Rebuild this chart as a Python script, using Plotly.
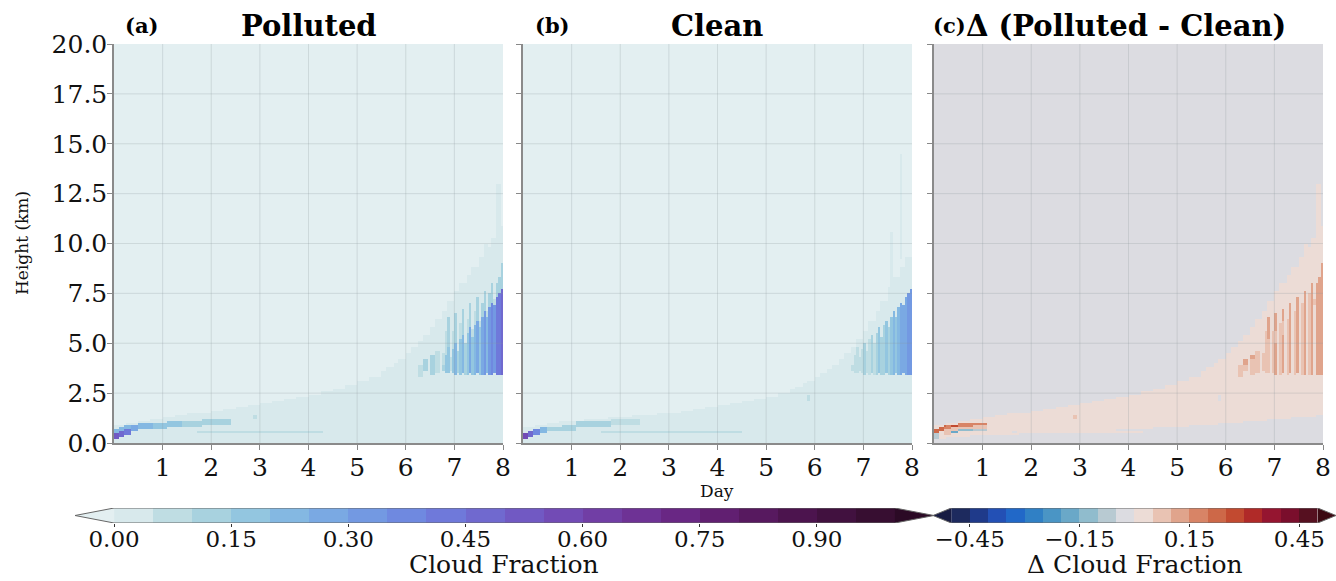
import numpy as np
import plotly.graph_objects as go

# ---------------------------------------------------------------------------
# Cloud-fraction fields (time-height), described as blocks of cloud:
# day start, day end, base (km), top (km), cloud fraction
# ---------------------------------------------------------------------------

# Thin cloud envelope (column start days; last column ends at day 8)
ENV_DAY0 = [0.0, 0.25, 0.5, 0.75, 1.0, 1.25, 1.5, 1.75, 2.0, 2.25, 2.5, 2.75,
            3.0, 3.25, 3.5, 3.75, 4.0, 4.25, 4.5, 4.75, 5.0, 5.25,
            5.5, 5.625, 5.75, 5.875, 6.0, 6.125, 6.25, 6.375, 6.5, 6.625,
            6.75, 6.875, 7.0, 7.125, 7.25, 7.375, 7.5, 7.625, 7.75, 7.875]
SFC_TOP = [0.2, 0.3, 0.35, 0.4, 0.4, 0.42, 0.45, 0.47, 0.5, 0.52, 0.55, 0.57,
           0.6, 0.62, 0.65, 0.68, 0.7, 0.73, 0.76, 0.8, 0.83, 0.86,
           0.9, 0.92, 0.95, 0.97, 1.0, 1.02, 1.05, 1.07, 1.1, 1.12,
           1.15, 1.17, 1.2, 1.22, 1.25, 1.27, 1.3, 1.32, 1.35, 1.37]
P_ENV_TOP = [0.95, 1.05, 1.15, 1.25, 1.32, 1.4, 1.47, 1.55, 1.62, 1.7, 1.8, 1.9,
             2.0, 2.1, 2.2, 2.3, 2.45, 2.6, 2.75, 2.9, 3.1, 3.35,
             3.6, 3.8, 4.0, 4.25, 4.5, 4.8, 5.1, 5.45, 5.8, 6.2,
             6.65, 7.1, 7.6, 8.0, 8.4, 8.8, 9.3, 9.8, 10.3, 10.9]
C_ENV_TOP = [0.85, 0.95, 1.05, 1.1, 1.15, 1.2, 1.25, 1.3, 1.35, 1.4, 1.45, 1.5,
             1.55, 1.6, 1.7, 1.8, 1.9, 2.0, 2.1, 2.2, 2.35, 2.5,
             2.7, 2.85, 3.0, 3.15, 3.3, 3.5, 3.7, 3.95, 4.2, 4.5,
             4.8, 5.2, 5.6, 6.1, 6.6, 7.1, 7.8, 8.3, 8.8, 9.3]
SFC_CF = 0.03
P_ENV_CF = 0.04
C_ENV_CF = 0.02

# Boundary-layer cloud over the first days
P_LOW_DAY0 = [0.00, 0.00, 0.10, 0.10, 0.20, 0.20, 0.35, 0.50, 0.80, 1.10, 1.40, 1.80, 2.85, 1.70]
P_LOW_DAY1 = [0.10, 0.10, 0.20, 0.20, 0.35, 0.35, 0.50, 0.80, 1.10, 1.40, 1.80, 2.40, 2.95, 4.30]
P_LOW_BASE = [0.20, 0.50, 0.30, 0.60, 0.45, 0.70, 0.65, 0.70, 0.75, 0.80, 0.85, 0.90, 1.20, 0.50]
P_LOW_TOP = [0.50, 0.70, 0.60, 0.80, 0.70, 0.90, 0.95, 1.00, 1.05, 1.10, 1.15, 1.20, 1.40, 0.62]
P_LOW_CF = [0.55, 0.25, 0.50, 0.25, 0.45, 0.22, 0.30, 0.22, 0.20, 0.17, 0.14, 0.12, 0.08, 0.08]

C_LOW_DAY0 = [0.00, 0.10, 0.20, 0.35, 0.50, 0.80, 1.10, 1.40, 1.80, 1.60, 5.85]
C_LOW_DAY1 = [0.10, 0.20, 0.35, 0.50, 0.80, 1.10, 1.40, 1.80, 2.40, 4.50, 5.90]
C_LOW_BASE = [0.20, 0.30, 0.45, 0.55, 0.60, 0.65, 0.80, 0.85, 0.90, 0.50, 2.10]
C_LOW_TOP = [0.50, 0.60, 0.70, 0.80, 0.85, 0.90, 1.10, 1.15, 1.20, 0.62, 2.40]
C_LOW_CF = [0.60, 0.48, 0.36, 0.22, 0.15, 0.13, 0.15, 0.12, 0.10, 0.07, 0.08]

# Deep convective columns at the end of the period (0.05-day columns)
DEEP_DAY0 = [6.75, 6.80, 6.85, 6.90, 6.95, 7.00, 7.05, 7.10, 7.15, 7.20, 7.25,
             7.30, 7.35, 7.40, 7.45, 7.50, 7.55, 7.60, 7.65, 7.70, 7.75, 7.80,
             7.85, 7.90, 7.95]
DEEP_BASE = [3.6, 3.5, 3.5, 3.6, 3.5, 3.4, 3.5, 3.4, 3.5, 3.4, 3.4,
             3.5, 3.4, 3.4, 3.5, 3.4, 3.4, 3.4, 3.5, 3.4, 3.4, 3.5,
             3.4, 3.4, 3.4]
DEEP_TOP = [3.9, 4.4, 4.8, 4.3, 4.7, 5.0, 4.6, 5.2, 5.4, 5.0, 5.5,
            5.8, 5.3, 5.9, 6.1, 5.8, 6.3, 6.6, 6.3, 6.8, 7.0, 6.9,
            7.3, 7.5, 7.7]
C_DEEP_CF = [0.06, 0.08, 0.10, 0.07, 0.10, 0.12, 0.08, 0.10, 0.13, 0.10, 0.13,
             0.16, 0.12, 0.15, 0.18, 0.15, 0.18, 0.22, 0.20, 0.24, 0.27, 0.26,
             0.30, 0.32, 0.34]
P_DEEP_CF = [0.14, 0.18, 0.16, 0.10, 0.18, 0.23, 0.12, 0.19, 0.25, 0.13, 0.20,
             0.28, 0.16, 0.23, 0.30, 0.18, 0.27, 0.34, 0.24, 0.34, 0.40, 0.31,
             0.41, 0.45, 0.46]
# thinner cloud above the polluted cores
P_CAP_TOP = [4.5, 5.6, 6.3, 4.6, 5.6, 6.5, 5.0, 6.0, 6.7, 5.4, 6.2,
             7.0, 5.7, 6.6, 7.3, 6.1, 7.0, 7.6, 6.6, 7.5, 8.0, 7.2,
             8.0, 8.3, 9.0]
P_CAP_CF = [0.09, 0.10, 0.11, 0.05, 0.09, 0.12, 0.05, 0.10, 0.12, 0.05, 0.09,
            0.13, 0.06, 0.10, 0.13, 0.06, 0.11, 0.14, 0.07, 0.12, 0.15, 0.08,
            0.13, 0.15, 0.14]

# Isolated convective cells and thin anvils
P_CELL_DAY0 = [6.25, 6.35, 6.50, 6.60, 7.85, 7.60]
P_CELL_DAY1 = [6.35, 6.45, 6.60, 6.70, 7.95, 7.70]
P_CELL_BASE = [3.3, 3.6, 3.4, 3.5, 10.8, 8.0]
P_CELL_TOP = [3.9, 4.2, 4.4, 4.6, 13.0, 10.0]
P_CELL_CF = [0.10, 0.12, 0.12, 0.09, 0.03, 0.04]

C_CELL_DAY0 = [6.55, 7.75, 7.55]
C_CELL_DAY1 = [6.60, 7.80, 7.60]
C_CELL_BASE = [3.5, 9.2, 7.8]
C_CELL_TOP = [4.0, 14.5, 10.6]
C_CELL_CF = [0.04, 0.03, 0.03]

# Axis ticks and colour-bar levels
DAY_TICKS = [1, 2, 3, 4, 5, 6, 7, 8]
HEIGHT_TICKS = [0.0, 2.5, 5.0, 7.5, 10.0, 12.5, 15.0, 17.5, 20.0]
CF_LEVELS = [round(0.05 * i, 2) for i in range(21)]
DCF_LEVELS = [round(-0.5 + 0.05 * i, 2) for i in range(21)]
CF_TICKS = [0.00, 0.15, 0.30, 0.45, 0.60, 0.75, 0.90]
DCF_TICKS = [-0.45, -0.15, 0.15, 0.45]

# Discrete colours: under, 20 bins, over
DENSE = ["#e3eff1", "#d8e9ec", "#bfdde3", "#a8d2df", "#93c6e0", "#84b8e2",
         "#7aa9e3", "#7399e2", "#6f89e0", "#6f79da", "#7069cf", "#7159c3",
         "#724bb5", "#713ea5", "#6e3295", "#692784", "#611f71", "#57195f",
         "#4c144e", "#41113f", "#370e31", "#2b0a25"]
BALANCE = ["#181c43", "#1d2a5e", "#1f3a8a", "#2350b5", "#2168c8", "#3080c5",
           "#4a95c5", "#6aa8c8", "#90bccd", "#b8cad2", "#dcdce1", "#ecdcd6",
           "#e9c3b3", "#e0a48c", "#d88466", "#cd6848", "#c24a30", "#b02a28",
           "#951530", "#7a0e2c", "#561020", "#3c0912"]

# ---------------------------------------------------------------------------
# Gridded fields
# ---------------------------------------------------------------------------
day_edges = np.linspace(0, 8, 161)
hgt_edges = np.linspace(0, 20, 201)
day_c = 0.5 * (day_edges[:-1] + day_edges[1:])
hgt_c = 0.5 * (hgt_edges[:-1] + hgt_edges[1:])
D, H = np.meshgrid(day_c, hgt_c)


def paint(field, d0, d1, base, top, cf):
    n = len(d0)
    cf = cf if isinstance(cf, (list, tuple)) else [cf] * n
    for a, b, lo, hi, v in zip(d0, d1, base, top, cf):
        m = (D >= a) & (D < b) & (H >= lo) & (H < hi)
        field[m] = np.maximum(field[m], v)


env_day1 = ENV_DAY0[1:] + [8.0]
deep_day1 = [d + 0.05 for d in DEEP_DAY0]


def build(env_top, env_cf, low, deep_cf, cap, cells):
    f = np.zeros_like(D)
    paint(f, ENV_DAY0, env_day1, [0.0] * len(ENV_DAY0), SFC_TOP, SFC_CF)
    paint(f, ENV_DAY0, env_day1, SFC_TOP, env_top, env_cf)
    paint(f, *low)
    if cap is not None:
        paint(f, DEEP_DAY0, deep_day1, DEEP_BASE, *cap)
    paint(f, DEEP_DAY0, deep_day1, DEEP_BASE, DEEP_TOP, deep_cf)
    paint(f, *cells)
    return f


polluted = build(P_ENV_TOP, P_ENV_CF,
                 (P_LOW_DAY0, P_LOW_DAY1, P_LOW_BASE, P_LOW_TOP, P_LOW_CF),
                 P_DEEP_CF, (P_CAP_TOP, P_CAP_CF),
                 (P_CELL_DAY0, P_CELL_DAY1, P_CELL_BASE, P_CELL_TOP, P_CELL_CF))
clean = build(C_ENV_TOP, C_ENV_CF,
              (C_LOW_DAY0, C_LOW_DAY1, C_LOW_BASE, C_LOW_TOP, C_LOW_CF),
              C_DEEP_CF, None,
              (C_CELL_DAY0, C_CELL_DAY1, C_CELL_BASE, C_CELL_TOP, C_CELL_CF))
delta = polluted - clean


def level_index(field, levels):
    # filled-contour bins (l_i, l_i+1]; 0 = below range, len(levels) = above
    lv = np.asarray(levels)
    return np.searchsorted(lv, np.round(field, 6), side="left").astype(float)


def discrete_scale(colors):
    n = len(colors)
    cs = []
    for k, c in enumerate(colors):
        cs += [[k / n, c], [(k + 1) / n, c]]
    return cs


W, HPX = 1336, 581
PX = lambda x: x / W
PY = lambda y: 1 - y / HPX

panel_x = [(114, 503), (523, 912), (934, 1323)]
y_dom = [PY(443), PY(44)]
fig = go.Figure()

fields = [(polluted, CF_LEVELS, DENSE), (clean, CF_LEVELS, DENSE),
          (delta, DCF_LEVELS, BALANCE)]
for i, (fld, lv, cols) in enumerate(fields):
    ax = "" if i == 0 else str(i + 1)
    fig.add_trace(go.Heatmap(
        x=day_edges, y=hgt_edges, z=level_index(fld, lv),
        colorscale=discrete_scale(cols), zmin=-0.5, zmax=len(cols) - 0.5,
        showscale=False, hoverinfo="skip", xaxis="x" + ax, yaxis="y" + ax))

SERIF = "DejaVu Serif"
tick_font = dict(family=SERIF, size=25, color="#111")
grid_line = dict(color="rgba(140,150,155,0.25)", width=1)
for i, (x0, x1) in enumerate(panel_x):
    ax = "" if i == 0 else str(i + 1)
    fig.update_layout(**{
        "xaxis" + ax: dict(domain=[PX(x0), PX(x1)], range=[0, 8],
                           tickvals=DAY_TICKS, ticks="outside", ticklen=5,
                           tickcolor="#888", showline=True, linecolor="#8a8a8a",
                           linewidth=1.5, showgrid=False, zeroline=False,
                           tickfont=tick_font, ticklabelstandoff=-4,
                           anchor="y" + ax, automargin=False, fixedrange=True),
        "yaxis" + ax: dict(domain=y_dom, range=[0, 20], tickvals=HEIGHT_TICKS,
                           ticktext=[f"{v:.1f}" for v in HEIGHT_TICKS],
                           showticklabels=(i == 0), ticks="outside", ticklen=5,
                           tickcolor="#888", showline=True, linecolor="#8a8a8a",
                           linewidth=1.5, showgrid=False, zeroline=False,
                           tickfont=tick_font, ticklabelstandoff=-5,
                           anchor="x" + ax, automargin=False, fixedrange=True),
    })
    # grid on top of the filled field
    for d in DAY_TICKS[:-1]:
        fig.add_shape(type="line", xref="x" + ax, yref="y" + ax, x0=d, x1=d,
                      y0=0, y1=20, line=grid_line, layer="above")
    for h in HEIGHT_TICKS[1:-1]:
        fig.add_shape(type="line", xref="x" + ax, yref="y" + ax, x0=0, x1=8,
                      y0=h, y1=h, line=grid_line, layer="above")

# ---------------------------------------------------------------------------
# Horizontal colour bars with extension triangles
# ---------------------------------------------------------------------------
cb_y = [PY(523), PY(508)]
bars = [("4", (75, 934), CF_LEVELS, DENSE, CF_TICKS),
        ("5", (933, 1336), DCF_LEVELS, BALANCE, DCF_TICKS)]
for ax, (x0, x1), lv, cols, tks in bars:
    ext = 0.05 * (lv[-1] - lv[0])
    lo, hi = lv[0], lv[-1]
    fig.add_trace(go.Heatmap(
        x=lv, y=[0, 1], z=[list(range(1, len(lv)))],
        colorscale=discrete_scale(cols), zmin=-0.5, zmax=len(cols) - 0.5,
        showscale=False, hoverinfo="skip", xaxis="x" + ax, yaxis="y" + ax))
    for xs, col in (([lo, lo - ext, lo, lo], cols[0]), ([hi, hi + ext, hi, hi], cols[-1])):
        fig.add_trace(go.Scatter(x=xs, y=[0, 0.5, 1, 0], mode="lines",
                                 fill="toself", fillcolor=col, line=dict(width=0),
                                 hoverinfo="skip", showlegend=False,
                                 xaxis="x" + ax, yaxis="y" + ax))
    fig.add_trace(go.Scatter(x=[lo, lo - ext, lo, hi, hi + ext, hi, lo],
                             y=[0, 0.5, 1, 1, 0.5, 0, 0], mode="lines",
                             line=dict(color="#666", width=1),
                             hoverinfo="skip", showlegend=False,
                             xaxis="x" + ax, yaxis="y" + ax))
    fig.update_layout(**{
        "xaxis" + ax: dict(domain=[PX(x0), min(PX(x1), 1.0)],
                           range=[lo - ext, hi + ext], tickvals=tks,
                           ticktext=[f"{t:.2f}".replace("-", "−") for t in tks],
                           ticks="outside", ticklen=3, tickcolor="#333",
                           showline=False, showgrid=False, zeroline=False,
                           tickfont=dict(family=SERIF, size=23, color="#111"),
                           ticklabelstandoff=-8,
                           anchor="y" + ax, automargin=False, fixedrange=True),
        "yaxis" + ax: dict(domain=cb_y, range=[0, 1], visible=False,
                           anchor="x" + ax, automargin=False, fixedrange=True),
    })

# ---------------------------------------------------------------------------
# Titles and axis labels
# ---------------------------------------------------------------------------
title_font = dict(family=SERIF, size=29, color="black")
tag_font = dict(family=SERIF, size=21, color="black")
label_font = dict(family=SERIF, size=17, color="#111")
cb_font = dict(family=SERIF, size=25, color="#111")
ann = [
    dict(text="<b>(a)</b>", x=PX(123), y=PY(26), xanchor="left", font=tag_font),
    dict(text="<b>Polluted</b>", x=PX(309), y=PY(26), font=title_font),
    dict(text="<b>(b)</b>", x=PX(533), y=PY(26), xanchor="left", font=tag_font),
    dict(text="<b>Clean</b>", x=PX(717), y=PY(26), font=title_font),
    dict(text="<b>(c)</b>", x=PX(931), y=PY(26), xanchor="left", font=tag_font),
    dict(text="<b>Δ (Polluted - Clean)</b>", x=PX(964), y=PY(26), xanchor="left",
         font=title_font),
    dict(text="Height (km)", x=PX(22), y=PY(243), textangle=-90, font=label_font),
    dict(text="Day", x=PX(717), y=PY(491), font=label_font),
    dict(text="Cloud Fraction", x=PX(504), y=PY(564), font=cb_font),
    dict(text="Δ Cloud Fraction", x=PX(1135), y=PY(564), font=cb_font),
]
for a in ann:
    a.update(xref="paper", yref="paper", showarrow=False, yanchor="middle")
    a.setdefault("xanchor", "center")

fig.update_layout(width=W, height=HPX, margin=dict(l=0, r=0, t=0, b=0),
                  paper_bgcolor="white", plot_bgcolor="white",
                  showlegend=False, annotations=ann)

fig.write_html("out.html")
